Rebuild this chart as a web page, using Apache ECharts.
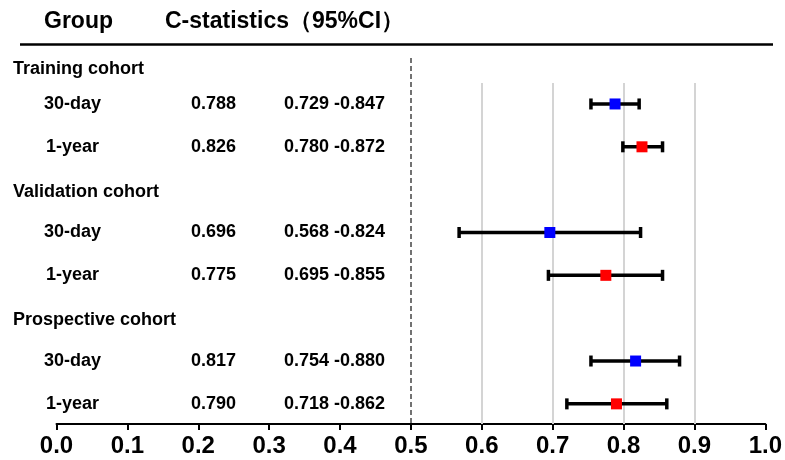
<!DOCTYPE html>
<html>
<head>
<meta charset="utf-8">
<script src="https://cdn.jsdelivr.net/npm/echarts@6/dist/echarts.min.js"></script>
<style>
  html, body { margin: 0; padding: 0; background: #fff; }
  #main { width: 785px; height: 460px; }
</style>
</head>
<body>
<div id="main"></div>
<script>
// rows of the forest plot, top to bottom
var groups = ['Training cohort', 'Validation cohort', 'Prospective cohort'];
var groupRow = [0, 3, 6];
var rowLabels = ['30-day', '1-year', '30-day', '1-year', '30-day', '1-year'];
var rowIndex = [1, 2, 4, 5, 7, 8];
var estText = ['0.788', '0.826', '0.696', '0.775', '0.817', '0.790'];
var ciText = ['0.729 -0.847', '0.780 -0.872', '0.568 -0.824', '0.695 -0.855', '0.754 -0.880', '0.718 -0.862'];
// plotted values
var est = [0.788, 0.826, 0.696, 0.775, 0.817, 0.790];
var lower = [0.754, 0.799, 0.568, 0.694, 0.754, 0.720];
var upper = [0.822, 0.855, 0.824, 0.855, 0.879, 0.861];
var pointColor = ['#0000ff', '#ff0000', '#0000ff', '#ff0000', '#0000ff', '#ff0000'];
var gridRefs = [0.6, 0.7, 0.8, 0.9];

var sans = "'Liberation Sans', Arial, sans-serif";

var barData = rowIndex.map(function (r, i) {
  return [est[i], r, lower[i], upper[i], i];
});
var textData = rowIndex.map(function (r, i) { return [0, r, i]; });
var groupData = groupRow.map(function (r, i) { return [0, r, i]; });

var main = echarts.init(document.getElementById('main'));

var yMax = 8.47;
var refLines = gridRefs.map(function (v) {
  return [{ coord: [v, 0.51] }, { coord: [v, yMax] }];
});

var option = {
  animation: false,
  grid: { left: 56.5, right: 17.5, top: 39.7, bottom: 36 },
  xAxis: {
    type: 'value',
    min: 0,
    max: 1,
    interval: 0.1,
    axisLine: { onZero: false, lineStyle: { color: '#000', width: 2 } },
    axisTick: { show: true, length: 6, lineStyle: { color: '#000', width: 2 } },
    splitLine: { show: false },
    axisLabel: {
      color: '#000',
      fontFamily: sans,
      fontWeight: 'bold',
      fontSize: 24,
      margin: 10,
      formatter: function (v) { return v.toFixed(1); }
    }
  },
  yAxis: {
    type: 'value',
    inverse: true,
    min: -0.5,
    max: yMax,
    show: false
  },
  graphic: [
    {
      type: 'text', left: 44, top: 10,
      style: { text: 'Group', font: 'bold 23px ' + sans, fill: '#000' }
    },
    {
      type: 'text', left: 165, top: 10,
      style: { text: 'C-statistics（95%CI）', font: 'bold 23px ' + sans, fill: '#000' }
    },
    {
      type: 'line',
      shape: { x1: 20, y1: 44.5, x2: 773, y2: 44.5 },
      style: { stroke: '#000', lineWidth: 2.5 }
    }
  ],
  series: [
    {
      // reference lines
      type: 'line',
      data: [],
      silent: true,
      markLine: {
        symbol: 'none',
        silent: true,
        label: { show: false },
        lineStyle: { color: '#d4d4d4', width: 2, type: 'solid' },
        data: refLines.concat([
          [{ coord: [0.5, -0.07], lineStyle: { color: '#444', width: 1.5, type: [5, 3] } },
           { coord: [0.5, yMax] }]
        ])
      }
    },
    {
      type: 'custom',
      data: barData,
      z: 5,
      renderItem: function (params, api) {
        var y = api.coord([0, api.value(1)])[1];
        var xl = api.coord([api.value(2), 0])[0];
        var xu = api.coord([api.value(3), 0])[0];
        var xe = api.coord([api.value(0), 0])[0];
        var c = pointColor[api.value(4)];
        var ls = { stroke: '#000', lineWidth: 3.5 };
        return {
          type: 'group',
          children: [
            { type: 'line', shape: { x1: xl, y1: y, x2: xu, y2: y }, style: ls },
            { type: 'line', shape: { x1: xl, y1: y - 5.5, x2: xl, y2: y + 5.5 }, style: ls },
            { type: 'line', shape: { x1: xu, y1: y - 5.5, x2: xu, y2: y + 5.5 }, style: ls },
            { type: 'rect', shape: { x: xe - 5.5, y: y - 5.5, width: 11, height: 11 }, style: { fill: c } }
          ]
        };
      }
    },
    {
      // table text for each row
      type: 'custom',
      data: textData,
      z: 6,
      renderItem: function (params, api) {
        var y = api.coord([0, api.value(1)])[1];
        var i = api.value(2);
        var f = 'bold 18px ' + sans;
        return {
          type: 'group',
          children: [
            { type: 'text', style: { x: 72.5, y: y, text: rowLabels[i], font: f, fill: '#000', align: 'center', verticalAlign: 'middle' } },
            { type: 'text', style: { x: 213.5, y: y, text: estText[i], font: f, fill: '#000', align: 'center', verticalAlign: 'middle' } },
            { type: 'text', style: { x: 334.5, y: y, text: ciText[i], font: f, fill: '#000', align: 'center', verticalAlign: 'middle' } }
          ]
        };
      }
    },
    {
      // group headers
      type: 'custom',
      data: groupData,
      z: 6,
      renderItem: function (params, api) {
        var i = api.value(2);
        var y = api.coord([0, api.value(1)])[1] + (i === 0 ? 8 : 2);
        return {
          type: 'text',
          style: { x: 13, y: y, text: groups[i], font: 'bold 18px ' + sans, fill: '#000', align: 'left', verticalAlign: 'middle' }
        };
      }
    }
  ]
};

main.setOption(option);
</script>
</body>
</html>
